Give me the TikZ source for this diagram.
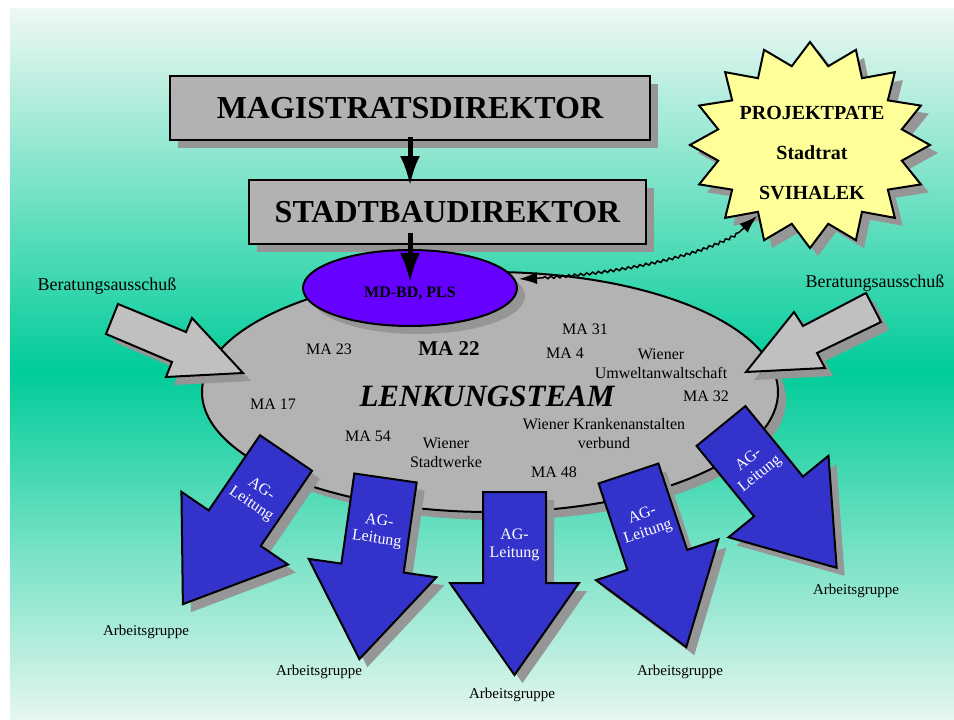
\documentclass[tikz,border=0pt]{standalone}
\usepackage{fontspec}
\setmainfont{Liberation Serif}
\usetikzlibrary{arrows.meta, shapes.geometric, shadows, decorations.pathmorphing}

\definecolor{bgtop}{HTML}{EEF8F4}
\definecolor{bgmid}{HTML}{00CC99}
\definecolor{bgbot}{HTML}{E6F6F0}
\definecolor{boxgray}{HTML}{B2B2B2}
\definecolor{shadowgray}{HTML}{969696}
\definecolor{lenkgray}{HTML}{B3B3B3}
\definecolor{plsviolet}{HTML}{6600FF}
\definecolor{agblue}{HTML}{3333CC}
\definecolor{patefill}{HTML}{FFFF99}
\definecolor{beratgray}{HTML}{C0C0C0}

\newcommand{\pxfont}[2]{\fontsize{#1}{#2}\selectfont}

\tikzset{
  agarrow/.pic = {
    \filldraw[agbody] (-31.5,0) -- (31.5,0) -- (31.5,91) -- (64.5,91) -- (0,183)
      -- (-64.5,91) -- (-31.5,91) -- cycle;
    \node[agtext, transform shape] (-txt) at (0,53) {AG-\\Leitung};
  }
}

\begin{document}
\begin{tikzpicture}[x=1pt, y=-1pt,
    dropgray/.style = {drop shadow={shadow xshift=8pt, shadow yshift=-8pt, fill=shadowgray, opacity=1}},
    boss/.style = {draw, line width=2pt, fill=boxgray, dropgray, inner sep=0pt, minimum height=64pt, font=\bfseries\pxfont{32}{38}},
    bigarrow/.style = {line width=5pt, -{Latex[length=30pt, width=20pt]}},
    berat/.style = {draw, line width=2pt, fill=beratgray, dropgray},
    agbody/.style = {draw, line width=2pt, fill=agblue, dropgray},
    agtext/.style = {text=white, align=center, font=\pxfont{16}{18}},
    lbl/.style = {align=center, font=\pxfont{16}{19}},
    group/.style = {font=\pxfont{15}{18}}
  ]
  \useasboundingbox (0,0) rectangle (954,720);
  % background
  \fill[top color=bgtop, bottom color=bgmid] (10,8) rectangle (954,371);
  \fill[top color=bgmid, bottom color=bgbot] (10,370) rectangle (954,720);

  \node[boss, minimum width=480pt] (mag) at (410,108) {MAGISTRATSDIREKTOR};
  \node[boss, minimum width=397pt] (stadt) at (447.5,212) {STADTBAUDIREKTOR};

  \node[ellipse, draw, line width=2pt, fill=lenkgray, dropgray, inner sep=0pt,
        minimum width=576pt, minimum height=240pt] (lenk) at (490,392) {};
  \node[ellipse, draw, line width=2pt, fill=plsviolet, dropgray, inner sep=0pt,
        minimum width=214pt, minimum height=76pt] (pls) at (410,288) {};
  \node[font=\bfseries\pxfont{16}{19}] (plstxt) at (410,293) {MD-BD, PLS};

  \draw[bigarrow] ([yshift=4pt]mag.south) -- ([yshift=-7pt]mag.south |- stadt.north);
  \draw[bigarrow] ([yshift=12pt]mag.south |- stadt.south) -- ([yshift=5pt]pls.center);

  % projektpate
  \coordinate (pate) at (810,145);
  \filldraw[line width=2pt, fill=patefill, dropgray, shift={(pate)}] (0:120)
    \foreach \k [evaluate=\k as \fr using {1-0.22*mod(\k,2)}] in {1,...,31} { -- ({\k*11.25}:{120*\fr} and {103*\fr}) } -- cycle;
  \node[align=center, font=\bfseries\pxfont{20}{40}] (patetxt) at (812,153) {PROJEKTPATE\\Stadtrat\\SVIHALEK};

  \coordinate (plsend) at (519,279);
  \coordinate (pateend) at (757,216);
  \draw[line width=1.5pt, {Latex[length=18pt, width=12pt]}-{Latex[length=18pt, width=12pt]},
        decorate, decoration={snake, amplitude=1.2pt, segment length=6pt, pre length=24pt, post length=24pt}]
    (plsend) .. controls (640,275) and (740,245) .. (pateend);

  % beratungsausschuss
  \filldraw[berat] (118,304) -- (186,332) -- (192,318) -- (243,373) -- (166,377) -- (172,362) -- (106,334) -- cycle;
  \filldraw[berat] (866,293) -- (803,326) -- (794,312) -- (746,372) -- (825,368) -- (817,353) -- (881,322) -- cycle;
  \node[font=\pxfont{18}{21}] (beratl) at (107,286) {Beratungsausschuß};
  \node[font=\pxfont{18}{21}] (beratr) at (875,283) {Beratungsausschuß};

  % lenkungsteam
  \node[font=\bfseries\itshape\pxfont{31}{36}] (lenktxt) at (487,396) {LENKUNGSTEAM};
  \node[font=\bfseries\pxfont{21}{24}] (ma22) at (449,349) {MA 22};
  \node[lbl] (ma23) at (329,349) {MA 23};
  \node[lbl] (ma31) at (585,329) {MA 31};
  \node[lbl] (ma4) at (565,353) {MA 4};
  \node[lbl] (wua) at (661,363.5) {Wiener\\Umweltanwaltschaft};
  \node[lbl] (ma17) at (273,404) {MA 17};
  \node[lbl] (ma32) at (706,396) {MA 32};
  \node[lbl] (wkav) at (604,433.5) {Wiener Krankenanstalten\\verbund};
  \node[lbl] (ma54) at (368,436) {MA 54};
  \node[lbl] (wsw) at (446,453) {Wiener\\Stadtwerke};
  \node[lbl] (ma48) at (554,472) {MA 48};

  % arbeitsgruppen
  \pic[rotate=-34.3] (ag1) at (286,453) {agarrow};
  \pic[rotate=-8.2] (ag2) at (385.5,478) {agarrow};
  \pic (ag3) at (514.5,492) {agarrow};
  \pic[rotate=18.4] (ag4) at (628.5,473.5) {agarrow};
  \pic[rotate=39.2] (ag5) at (721,426) {agarrow};

  \node[group] (grp1) at (146,632) {Arbeitsgruppe};
  \node[group] (grp2) at (319,672) {Arbeitsgruppe};
  \node[group] (grp3) at (512,695) {Arbeitsgruppe};
  \node[group] (grp4) at (680,672) {Arbeitsgruppe};
  \node[group] (grp5) at (856,591) {Arbeitsgruppe};
\end{tikzpicture}
\end{document}
